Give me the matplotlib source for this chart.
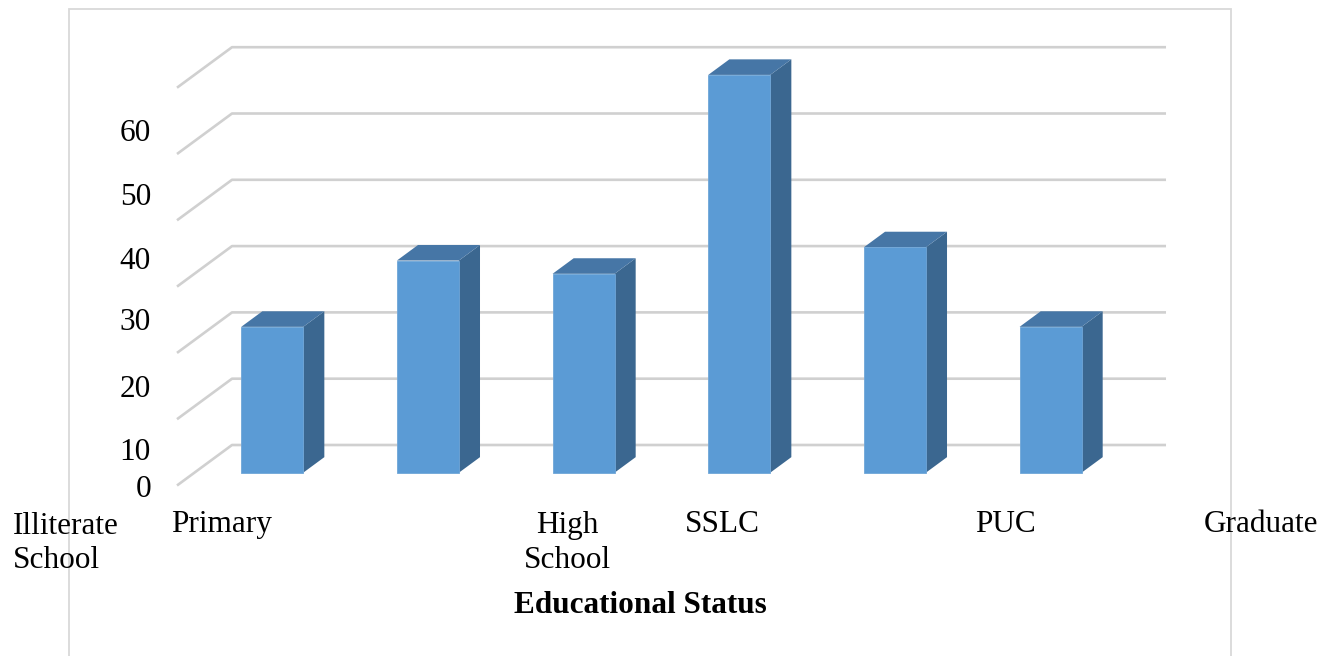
import matplotlib
matplotlib.use("Agg")
import matplotlib.pyplot as plt
from matplotlib.patches import Polygon, Rectangle

# ---- data ----
categories = ["Illiterate\nSchool", "Primary", "High\nSchool", "SSLC", "PUC", "Graduate"]
values = [22, 32, 30, 60, 34, 22]
ytick_values = [0, 10, 20, 30, 40, 50, 60]
ytick_labels = ["0", "10", "20", "30", "40", "50", "60"]
xlabel = "Educational Status"

# ---- layout / style ----
W, H = 1337, 656
FONT = "Liberation Serif"
FS = 22.5
front_col = "#5B9BD5"
top_col = "#4676A6"
side_col = "#3B6790"
grid_col = "#D0D0D0"

PX_X = 155.67          # pixels per category
PX_Y = 6.63            # pixels per value unit
X0PX, Y0PX = 177, 485.5
DX = 55 / PX_X         # full depth offset (data units)
DY = 40.5 / PX_Y
D_FRONT, D_BACK = 0.316, 0.70
BAR_W = 62 / PX_X

fig = plt.figure(figsize=(W / 100, H / 100), dpi=100)
ax = fig.add_axes([0, 0, 1, 1])
ax.set_xlim(-X0PX / PX_X, (W - X0PX) / PX_X)
ax.set_ylim((Y0PX - H) / PX_Y, Y0PX / PX_Y)
ax.axis("off")

n = len(categories)

# outer border
fig.patches.append(Rectangle((69 / W, -0.1), (1231 - 69) / W, 1.1 - 9 / H,
                             transform=fig.transFigure, fill=False,
                             edgecolor="#D9D9D9", linewidth=1.3, zorder=0))

# gridlines: left side wall diagonals and back wall horizontals
for v in ytick_values:
    ax.plot([0, DX, n + DX], [v, v + DY, v + DY], color=grid_col,
            linewidth=1.9, solid_capstyle="butt", zorder=1)

# 3D bars
for i, v in enumerate(values):
    c = i + 0.5
    x0 = c - BAR_W / 2 + D_FRONT * DX
    x1 = x0 + BAR_W
    yb = D_FRONT * DY
    yt = v + yb
    ddx = (D_BACK - D_FRONT) * DX
    ddy = (D_BACK - D_FRONT) * DY
    ax.add_patch(Polygon([(x1, yb), (x1 + ddx, yb + ddy), (x1 + ddx, yt + ddy), (x1, yt)],
                         closed=True, facecolor=side_col, edgecolor="none", zorder=3))
    ax.add_patch(Polygon([(x0, yt), (x1, yt), (x1 + ddx, yt + ddy), (x0 + ddx, yt + ddy)],
                         closed=True, facecolor=top_col, edgecolor="none", zorder=3))
    ax.add_patch(Rectangle((x0, yb), BAR_W, v, facecolor=front_col,
                           edgecolor="#6FA6D8", linewidth=0.6, zorder=4))

# y tick labels (as placed in the original)
ylab_centers_px = [487, 450, 387, 320, 259, 195, 131]
for lab, py in zip(ytick_labels, ylab_centers_px):
    fig.text(151 / W, 1 - (py + 10) / H, lab, ha="right", va="baseline",
             fontsize=FS, family=FONT, color="black")

# category labels (as placed in the original)
cat_pos = [(13, "left"), (171, "left"), (567, "center"), (685, "left"), (975, "left"), (1204, "left")]
for lab, (px, ha) in zip(categories, cat_pos):
    nl = lab.count("\n")
    fig.text(px / W, 1 - (532 + 36 * nl) / H, lab, ha=ha, va="baseline", fontsize=FS,
             family=FONT, color="black", linespacing=1.25, multialignment=ha)

fig.text(640 / W, 1 - 613 / H, xlabel, ha="center", va="baseline",
         fontsize=FS, family=FONT, fontweight="bold", color="black")

fig.savefig("out.png", dpi=100, facecolor="white")
